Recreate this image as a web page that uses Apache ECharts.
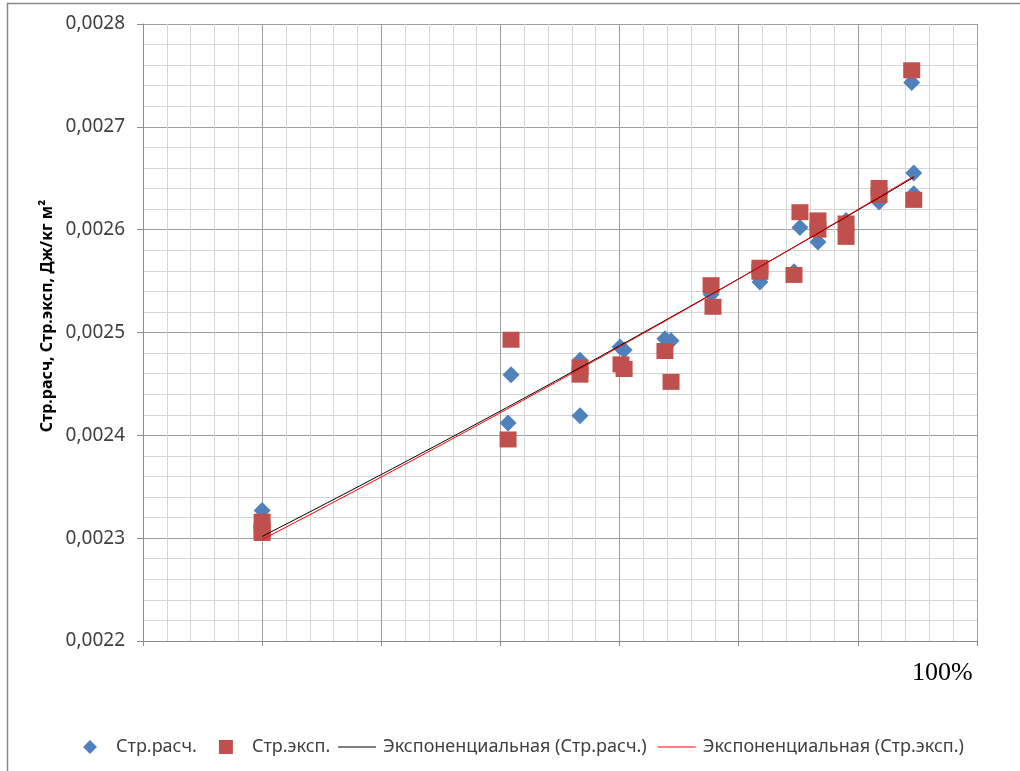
<!DOCTYPE html>
<html>
<head>
<meta charset="utf-8">
<script src="https://cdn.jsdelivr.net/npm/echarts@6/dist/echarts.min.js"></script>
<style>
  html, body { margin: 0; padding: 0; background: #fff; }
  #chart { width: 1020px; height: 771px; }
</style>
</head>
<body>
<div id="chart"></div>
<script>
// Стр.расч. — calculated values
const calcX = [1.00, 1.00, 3.064, 3.089, 3.668, 3.668, 4.004, 4.038, 4.381, 4.432, 4.768, 5.178, 5.464, 5.514, 5.665, 5.901, 6.178, 6.452, 6.469, 6.469];
const calcY = [0.002327, 0.002311, 0.002412, 0.002459, 0.002473, 0.002419, 0.002486, 0.002483, 0.002494, 0.002492, 0.002537, 0.002549, 0.002559, 0.002602, 0.002588, 0.002609, 0.002627, 0.002743, 0.002655, 0.002635];

// Стр.эксп. — experimental values
const expX = [1.00, 1.00, 1.00, 3.064, 3.089, 3.668, 3.668, 4.012, 4.038, 4.381, 4.432, 4.768, 4.784, 5.178, 5.178, 5.464, 5.514, 5.665, 5.665, 5.901, 5.901, 6.178, 6.178, 6.452, 6.469];
const expY = [0.002316, 0.002308, 0.002305, 0.002396, 0.002493, 0.002466, 0.002459, 0.002469, 0.0024645, 0.002482, 0.002452, 0.002546, 0.002525, 0.002563, 0.002559, 0.002556, 0.002617, 0.002609, 0.0026, 0.002606, 0.002593, 0.0026405, 0.0026337, 0.002755, 0.002629];

// Axis settings
const yMin = 0.0022, yMax = 0.0028, yStep = 0.0001;
const xMin = 0, xMax = 7, xStep = 1;
const cornerLabel = '100%';
const yTitle = 'Стр.расч, Стр.эксп, Дж/кг м²';
const names = ['Стр.расч.', 'Стр.эксп.', 'Экспоненциальная (Стр.расч.)', 'Экспоненциальная (Стр.эксп.)'];

// Exponential least-squares trend y = a·e^(b·x), sampled across the data range
function expTrend(xs, ys) {
  const n = xs.length;
  let sx = 0, sy = 0, sxx = 0, sxy = 0;
  for (let i = 0; i < n; i++) {
    const ly = Math.log(ys[i]);
    sx += xs[i]; sy += ly; sxx += xs[i] * xs[i]; sxy += xs[i] * ly;
  }
  const b = (n * sxy - sx * sy) / (n * sxx - sx * sx);
  const a = Math.exp((sy - b * sx) / n);
  const lo = Math.min(...xs), hi = Math.max(...xs);
  const pts = [];
  const steps = 40;
  for (let k = 0; k <= steps; k++) {
    const x = lo + (hi - lo) * k / steps;
    pts.push([x, a * Math.exp(b * x)]);
  }
  return pts;
}

const zip = (xs, ys) => xs.map((x, i) => [x, ys[i]]);

const chart = echarts.init(document.getElementById('chart'));
const font = '"Noto Sans", "Open Sans", sans-serif';
const legendText = { fontSize: 18, color: '#404040', fontFamily: font };

chart.setOption({
  backgroundColor: '#ffffff',
  animation: false,
  textStyle: { fontFamily: font },
  grid: { left: 143, top: 24, right: 43, bottom: 130 },
  xAxis: {
    type: 'value',
    min: xMin, max: xMax, interval: xStep,
    axisLine: { show: true, lineStyle: { color: '#8c8c8c', width: 1 } },
    axisTick: { show: true, length: 5, lineStyle: { color: '#8c8c8c' } },
    axisLabel: { show: false },
    splitLine: { show: true, lineStyle: { color: '#9e9e9e', width: 1 } },
    minorTick: { show: false, splitNumber: 5 },
    minorSplitLine: { show: true, lineStyle: { color: '#d4d4d4', width: 1 } }
  },
  yAxis: {
    type: 'value',
    min: yMin, max: yMax, interval: yStep,
    axisLine: { show: true, lineStyle: { color: '#8c8c8c', width: 1 } },
    axisTick: { show: true, length: 6, lineStyle: { color: '#8c8c8c' } },
    axisLabel: {
      color: '#404040', fontSize: 19, margin: 18, fontFamily: font,
      formatter: v => v.toFixed(4).replace('.', ',')
    },
    splitLine: { show: true, lineStyle: { color: '#9e9e9e', width: 1 } },
    minorTick: { show: false, splitNumber: 5 },
    minorSplitLine: { show: true, lineStyle: { color: '#d4d4d4', width: 1 } }
  },
  legend: [
    {
      // marker entries
      left: 83, top: 738, padding: 0,
      itemWidth: 14, itemHeight: 14, itemGap: 22,
      textStyle: Object.assign({ padding: [0, 0, 0, 14] }, legendText),
      data: [
        { name: names[0], icon: 'path://M7,0L14,7L7,14L0,7Z', itemStyle: { color: '#4F81BD' } },
        { name: names[1], icon: 'path://M0,0H13V13H0Z', itemStyle: { color: '#C0504D' } }
      ]
    },
    {
      // trend line entries
      left: 338, top: 738, padding: 0,
      itemWidth: 38, itemHeight: 14, itemGap: 11,
      textStyle: Object.assign({ padding: [0, 0, 0, 2] }, legendText),
      data: [
        { name: names[2], icon: 'path://M0,0H40V1H0Z', itemStyle: { color: '#000000' } },
        { name: names[3], icon: 'path://M0,0H40V1H0Z', itemStyle: { color: '#FF0000' } }
      ]
    }
  ],
  graphic: [
    { type: 'rect', silent: true, shape: { x: 7.5, y: 3.5, width: 1040, height: 800 },
      style: { fill: null, stroke: '#868686', lineWidth: 1.5 }, z: -10 },
    { type: 'text', left: 912, top: 660, silent: true,
      style: { text: cornerLabel, fontFamily: '"Liberation Serif", "Times New Roman", serif', fontSize: 26, fill: '#000' } },
    { type: 'text', x: 47, y: 316, rotation: Math.PI / 2, silent: true,
      style: { text: yTitle, fontFamily: font, fontWeight: 'bold', fontSize: 16, fill: '#000',
               align: 'center', verticalAlign: 'middle' } }
  ],
  series: [
    {
      name: names[0], type: 'scatter', data: zip(calcX, calcY),
      symbol: 'diamond', symbolSize: 17,
      itemStyle: { color: '#4F81BD', opacity: 1 }, z: 2
    },
    {
      name: names[1], type: 'scatter', data: zip(expX, expY),
      symbol: 'rect', symbolSize: [17, 16],
      itemStyle: { color: '#C0504D', opacity: 1 }, z: 3
    },
    {
      name: names[2], type: 'line', data: expTrend(calcX, calcY),
      showSymbol: false, smooth: false,
      lineStyle: { color: '#000000', width: 1 }, itemStyle: { color: '#000000' }, z: 5
    },
    {
      name: names[3], type: 'line', data: expTrend(expX, expY),
      showSymbol: false, smooth: false,
      lineStyle: { color: '#FF0000', width: 1 }, itemStyle: { color: '#FF0000' }, z: 6
    }
  ]
});
</script>
</body>
</html>
